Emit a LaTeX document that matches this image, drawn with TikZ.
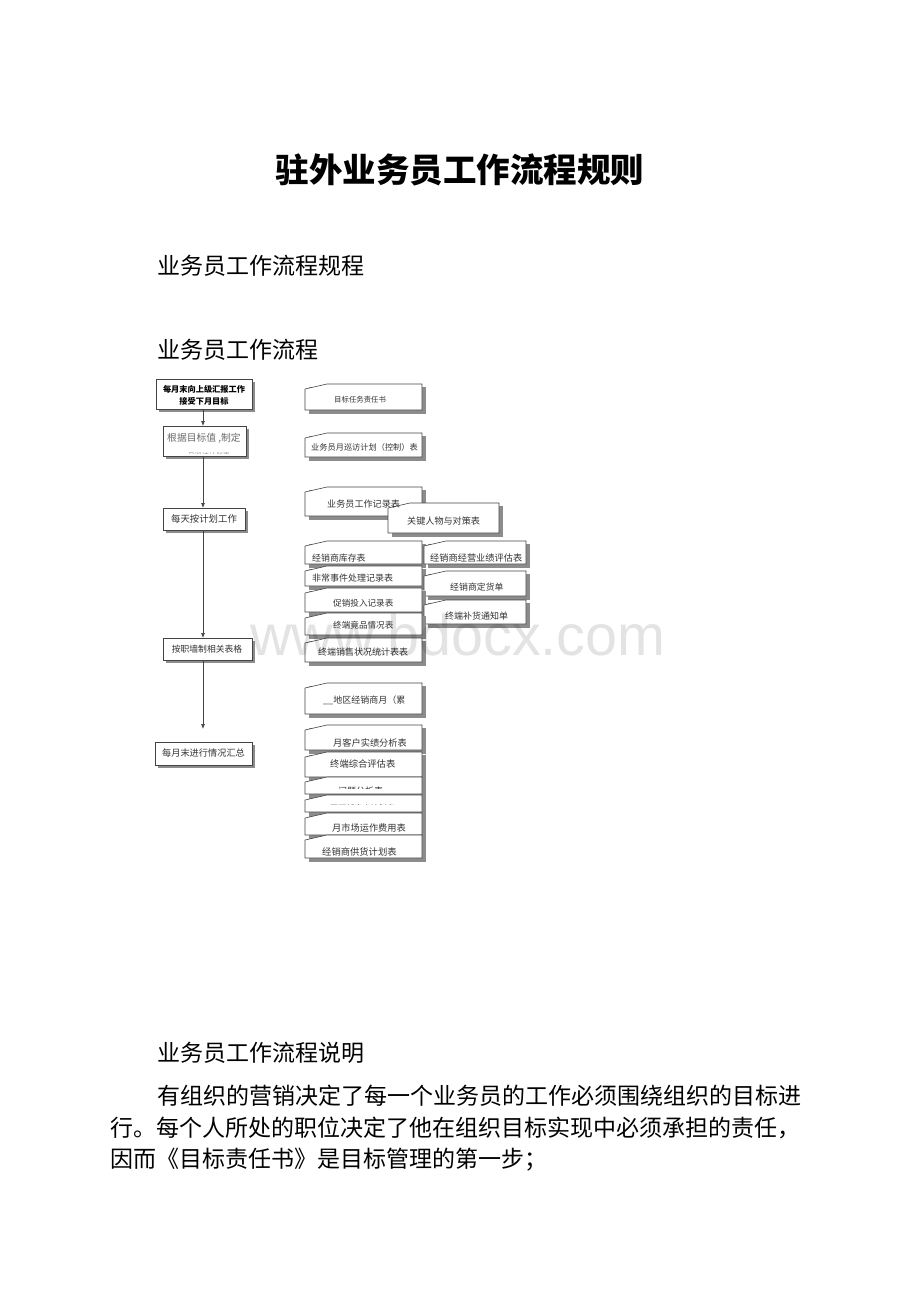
\documentclass[tikz,border=0pt]{standalone}
\usepackage{fontspec}
\setmainfont{Noto Sans CJK SC}
\newfontfamily\wmfont{Liberation Sans}
\usetikzlibrary{arrows.meta,backgrounds}
\definecolor{boxline}{HTML}{444444}
\definecolor{shadowc}{HTML}{8C8C8C}
\definecolor{doctext}{HTML}{333333}
\definecolor{conncol}{HTML}{9A9A9A}
\tikzset{
  boxnode/.style={draw=none, inner sep=0pt, outer sep=0pt},
  lboxline/.style={draw=boxline, line width=0.7pt, fill=white},
  docline/.style={draw=boxline, line width=0.6pt, fill=white},
  dtext/.style={inner sep=0pt, anchor=west, text=doctext},
  ltext/.style={inner sep=0pt, text=doctext},
  conn/.style={draw=conncol, line width=0.5pt, dash pattern=on 1pt off 1pt},
  spine/.style={draw=boxline, line width=0.7pt},
  tip/.style={-{Latex[length=5pt,width=4pt]}},
  heading/.style={inner sep=0pt, anchor=west, font=\fontsize{23}{28}\selectfont},
}
% left box: name x1 y1 x2 y2
\newcommand\lbox[5]{%
  \fill[shadowc] (#2+3,#3+3) rectangle (#4+3,#5+3);
  \draw[lboxline] (#2,#3) rectangle (#4,#5);
  \node[boxnode, minimum width={#4pt-#2pt}, minimum height={#5pt-#3pt}] (#1) at ({(#2+#4)/2},{(#3+#5)/2}) {};
}
% document box: name x1 y1 x2 y2
\newcommand\dbox[5]{%
  \fill[shadowc] (#2+4,#3+3) rectangle (#4+4,#5+4);
  \draw[docline] (#2,#3+5) -- (#2+22,#3) -- (#4,#3) -- (#4,#5) -- (#2,#5) -- cycle;
  \node[boxnode, minimum width={#4pt-#2pt}, minimum height={#5pt-#3pt}] (#1) at ({(#2+#4)/2},{(#3+#5)/2}) {};
}
\newcommand\fs[1]{\fontsize{#1}{#1}\selectfont}
\begin{document}
\begin{tikzpicture}[x=1pt,y=-1pt]
\useasboundingbox (0,0) rectangle (920,1302);
\fill[white] (0,0) rectangle (920,1302);

% ---- page texts ----
\node[inner sep=0pt, font=\fontsize{33.5}{40}\selectfont\bfseries] (title) at (460,170) {驻外业务员工作流程规则};
\node[heading] (h1) at (157,266) {业务员工作流程规程};
\node[heading] (h2) at (157,350) {业务员工作流程};
\node[heading] (h3) at (157,1053) {业务员工作流程说明};
\node[heading] (p1) at (157,1096) {有组织的营销决定了每一个业务员的工作必须围绕组织的目标进};
\node[heading] (p2) at (110,1128) {行。每个人所处的职位决定了他在组织目标实现中必须承担的责任，};
\node[heading] (p3) at (110,1160) {因而《目标责任书》是目标管理的第一步；};

% ---- left process boxes ----
\lbox{b1}{156}{379}{252}{409}
\lbox{b2}{163}{426}{246}{456}
\lbox{b3}{163}{508}{245}{530}
\lbox{b4}{163}{638}{252}{660}
\lbox{b5}{155}{742}{252}{765}
\coordinate (sp) at (203,0);

% ---- document boxes ----
\dbox{d1}{305}{384}{422}{410}
\dbox{d2}{305}{433}{422}{457}
\dbox{d3}{305}{487}{422}{516}
\dbox{d4}{388}{503}{499}{533}
\dbox{d5}{305}{541}{422}{564}
\dbox{d6}{424}{541}{526}{564}
\dbox{d7}{305}{566}{422}{586}
\dbox{d8}{424}{571}{526}{596}
\dbox{d9}{305}{588}{422}{612}
\dbox{d10}{424}{600}{526}{624}
\dbox{d11}{305}{613}{422}{635}
\dbox{d12}{305}{638}{422}{662}
\dbox{d13}{305}{683}{422}{714}
\dbox{d14}{305}{725}{422}{750}
\dbox{d15}{305}{752}{422}{777}
\dbox{d16}{305}{777}{422}{794}
\dbox{d17}{305}{795}{422}{812}
\dbox{d18}{305}{813}{422}{835}
\dbox{d19}{305}{835}{422}{858}

% ---- texts of left boxes ----
\node[inner sep=0pt, align=center, font=\fontsize{8.2}{12}\selectfont\bfseries] (b1t) at (204,395.5) {每月末向上级汇报工作\\接受下月目标};
\node[ltext, text=black!58, font=\fs{9.8}] (b2t) at (204,438) {根据目标值 ,制定};
\begin{scope}
  \clip (164,450.5) rectangle (245,453.5);
  \node[ltext, text=black!45, font=\fs{7}, anchor=west] (b2u) at (176,456) {——月巡访计划表};
\end{scope}
\node[ltext, font=\fs{9.4}] (b3t) at (204,519) {每天按计划工作};
\node[ltext, font=\fs{8.8}] (b4t) at (207,649) {按职墙制相关表格};
\node[ltext, font=\fs{9.2}] (b5t) at (203.5,752.5) {每月末进行情况汇总};

% ---- texts of document boxes ----
\node[dtext, font=\fs{7.4}] (d1t) at (334,400) {目标任务责任书};
\node[dtext, font=\fs{8.2}] (d2t) at (311,447) {业务员月巡访计划（控制）表};
\node[dtext, font=\fs{9.1}] (d3t) at (327,504) {业务员工作记录表};
\node[dtext, font=\fs{9.1}] (d4t) at (407,521) {关键人物与对策表};
\node[dtext, font=\fs{8.9}] (d5t) at (312,558) {经销商库存表};
\node[dtext, font=\fs{9.2}] (d6t) at (430,558) {经销商经营业绩评估表};
\node[dtext, font=\fs{9}] (d7t) at (312,578) {非常事件处理记录表};
\node[dtext, font=\fs{8.9}] (d8t) at (450,587) {经销商定货单};
\node[dtext, font=\fs{8.6}] (d9t) at (333,603) {促销投入记录表};
\node[dtext, font=\fs{9}] (d10t) at (445,616) {终端补货通知单};
\node[dtext, font=\fs{8.6}] (d11t) at (333,625) {终端竟品情况表};
\node[dtext, font=\fs{9}] (d12t) at (318,652) {终端销售状况统计表表};
\node[dtext, font=\fs{9}] (d13t) at (323,700) {\_\_地区经销商月（累};
\node[dtext, font=\fs{9.2}] (d14t) at (333,743) {月客户实绩分析表};
\node[dtext, font=\fs{9.3}] (d15t) at (330,764) {终端综合评估表};
\begin{scope}
  \clip (306,780) rectangle (421,788);
  \node[dtext, font=\fs{9}] (d16t) at (338,791) {问题分析表};
\end{scope}
\begin{scope}
  \clip (306,798) rectangle (421,804);
  \node[dtext, font=\fs{8.1}] (d17t) at (330,808) {开拓新客户计划表};
\end{scope}
\node[dtext, font=\fs{9.2}] (d18t) at (332,828) {月市场运作费用表};
\node[dtext, font=\fs{9.3}] (d19t) at (322,852) {经销商供货计划表};

% ---- connectors ----
\begin{pgfonlayer}{background}
  \draw[conn] ([yshift=-6pt]b1.east) -- ([yshift=-6pt]b1.east -| d1.west);
  \draw[conn] ([yshift=-10.5pt]b2.east) -- ([yshift=-10.5pt]b2.east -| d2.west);
  \draw[conn] ([yshift=-1.5pt]b3.east) -- ([yshift=-1.5pt]b3.east -| d3.west);
  \draw[conn] ([yshift=3pt]b4.east) -- ([yshift=3pt]b4.east -| d12.west);
  \draw[conn] ([yshift=-5pt]b5.east) -- ([yshift=-5pt]b5.east -| d14.west);
\end{pgfonlayer}
\draw[spine, tip] (sp |- b1.south) -- (sp |- b2.north);
\draw[spine, tip] (sp |- b2.south) -- (sp |- b3.north);
\draw[spine, tip] (sp |- b3.south) -- (sp |- b4.north);
\draw[spine, tip] (sp |- b4.south) -- ([yshift=13pt]sp |- b5.north);

% ---- watermark ----
\node[inner sep=0pt, anchor=base west, font=\wmfont\fontsize{57.5}{57.5}\selectfont, text=black, text opacity=0.11] (wm) at (250,655) {www.bdocx.com};
\end{tikzpicture}
\end{document}
